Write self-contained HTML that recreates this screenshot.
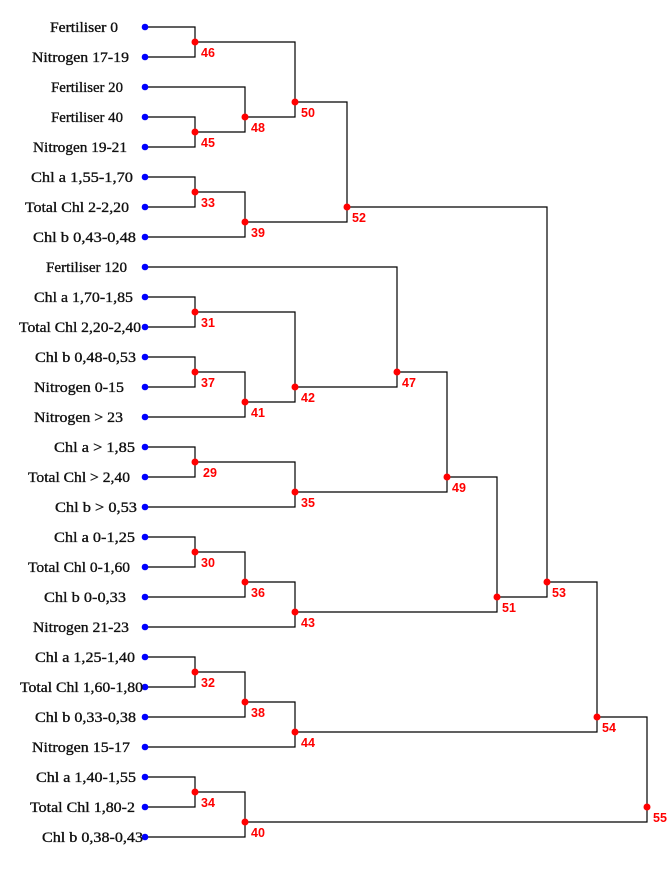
<!DOCTYPE html>
<html><head><meta charset="utf-8"><style>
html,body{margin:0;padding:0;background:#fff;}
svg{display:block;}
.l{font-family:"Liberation Serif",serif;font-size:15px;fill:#111;stroke:#111;stroke-width:0.35;}
.n{font-family:"Liberation Sans",sans-serif;font-size:12.5px;font-weight:bold;fill:#f00;}
</style></head><body>
<svg width="672" height="876" xmlns="http://www.w3.org/2000/svg">
<g stroke="#000" stroke-width="1.2" fill="none">
<polyline points="145,27 195,27 195,57 145,57"/>
<polyline points="145,117 195,117 195,147 145,147"/>
<polyline points="145,87 245,87 245,132 195,132"/>
<polyline points="195,42 295,42 295,117 245,117"/>
<polyline points="145,177 195,177 195,207 145,207"/>
<polyline points="195,192 245,192 245,237 145,237"/>
<polyline points="295,102 347,102 347,222 245,222"/>
<polyline points="145,297 195,297 195,327 145,327"/>
<polyline points="145,357 195,357 195,387 145,387"/>
<polyline points="195,372 245,372 245,417 145,417"/>
<polyline points="195,312 295,312 295,402 245,402"/>
<polyline points="145,267 397,267 397,387 295,387"/>
<polyline points="145,447 195,447 195,477 145,477"/>
<polyline points="195,462 295,462 295,507 145,507"/>
<polyline points="397,372 447,372 447,492 295,492"/>
<polyline points="145,537 195,537 195,567 145,567"/>
<polyline points="195,552 245,552 245,597 145,597"/>
<polyline points="245,582 295,582 295,627 145,627"/>
<polyline points="447,477 497,477 497,612 295,612"/>
<polyline points="347,207 547,207 547,597 497,597"/>
<polyline points="145,657 195,657 195,687 145,687"/>
<polyline points="195,672 245,672 245,717 145,717"/>
<polyline points="245,702 295,702 295,747 145,747"/>
<polyline points="547,582 597,582 597,732 295,732"/>
<polyline points="145,777 195,777 195,807 145,807"/>
<polyline points="195,792 245,792 245,837 145,837"/>
<polyline points="597,717 647,717 647,822 245,822"/>
</g>
<g fill="#00f">
<circle cx="145" cy="27" r="3.3"/><circle cx="145" cy="57" r="3.3"/><circle cx="145" cy="87" r="3.3"/><circle cx="145" cy="117" r="3.3"/><circle cx="145" cy="147" r="3.3"/><circle cx="145" cy="177" r="3.3"/><circle cx="145" cy="207" r="3.3"/><circle cx="145" cy="237" r="3.3"/><circle cx="145" cy="267" r="3.3"/><circle cx="145" cy="297" r="3.3"/><circle cx="145" cy="327" r="3.3"/><circle cx="145" cy="357" r="3.3"/><circle cx="145" cy="387" r="3.3"/><circle cx="145" cy="417" r="3.3"/><circle cx="145" cy="447" r="3.3"/><circle cx="145" cy="477" r="3.3"/><circle cx="145" cy="507" r="3.3"/><circle cx="145" cy="537" r="3.3"/><circle cx="145" cy="567" r="3.3"/><circle cx="145" cy="597" r="3.3"/><circle cx="145" cy="627" r="3.3"/><circle cx="145" cy="657" r="3.3"/><circle cx="145" cy="687" r="3.3"/><circle cx="145" cy="717" r="3.3"/><circle cx="145" cy="747" r="3.3"/><circle cx="145" cy="777" r="3.3"/><circle cx="145" cy="807" r="3.3"/><circle cx="145" cy="837" r="3.3"/>
</g>
<g fill="#f00">
<circle cx="195" cy="42" r="3.5"/><circle cx="195" cy="132" r="3.5"/><circle cx="245" cy="117" r="3.5"/><circle cx="295" cy="102" r="3.5"/><circle cx="195" cy="192" r="3.5"/><circle cx="245" cy="222" r="3.5"/><circle cx="347" cy="207" r="3.5"/><circle cx="195" cy="312" r="3.5"/><circle cx="195" cy="372" r="3.5"/><circle cx="245" cy="402" r="3.5"/><circle cx="295" cy="387" r="3.5"/><circle cx="397" cy="372" r="3.5"/><circle cx="195" cy="462" r="3.5"/><circle cx="295" cy="492" r="3.5"/><circle cx="447" cy="477" r="3.5"/><circle cx="195" cy="552" r="3.5"/><circle cx="245" cy="582" r="3.5"/><circle cx="295" cy="612" r="3.5"/><circle cx="497" cy="597" r="3.5"/><circle cx="547" cy="582" r="3.5"/><circle cx="195" cy="672" r="3.5"/><circle cx="245" cy="702" r="3.5"/><circle cx="295" cy="732" r="3.5"/><circle cx="597" cy="717" r="3.5"/><circle cx="195" cy="792" r="3.5"/><circle cx="245" cy="822" r="3.5"/><circle cx="647" cy="807" r="3.5"/>
</g>
<g class="n">
<text x="201" y="57">46</text><text x="201" y="147">45</text><text x="251" y="132">48</text><text x="301" y="117">50</text><text x="201" y="207">33</text><text x="251" y="237">39</text><text x="352" y="222">52</text><text x="201" y="327">31</text><text x="201" y="387">37</text><text x="251" y="417">41</text><text x="301" y="402">42</text><text x="402" y="387">47</text><text x="203" y="477">29</text><text x="301" y="507">35</text><text x="452" y="492">49</text><text x="201" y="567">30</text><text x="251" y="597">36</text><text x="301" y="627">43</text><text x="502" y="612">51</text><text x="552" y="597">53</text><text x="201" y="687">32</text><text x="251" y="717">38</text><text x="301" y="747">44</text><text x="602" y="732">54</text><text x="201" y="807">34</text><text x="251" y="837">40</text><text x="653" y="822">55</text>
</g>
<g class="l">
<text x="50" y="32" textLength="68" lengthAdjust="spacingAndGlyphs">Fertiliser  0</text>
<text x="32" y="62" textLength="97" lengthAdjust="spacingAndGlyphs">Nitrogen  17-19</text>
<text x="51" y="92" textLength="72" lengthAdjust="spacingAndGlyphs">Fertiliser 20</text>
<text x="51" y="122" textLength="72" lengthAdjust="spacingAndGlyphs">Fertiliser 40</text>
<text x="33" y="152" textLength="94" lengthAdjust="spacingAndGlyphs">Nitrogen 19-21</text>
<text x="31" y="182" textLength="102" lengthAdjust="spacingAndGlyphs">Chl a  1,55-1,70</text>
<text x="25" y="212" textLength="104" lengthAdjust="spacingAndGlyphs">Total Chl  2-2,20</text>
<text x="33" y="242" textLength="103" lengthAdjust="spacingAndGlyphs">Chl b  0,43-0,48</text>
<text x="46" y="272" textLength="81" lengthAdjust="spacingAndGlyphs">Fertiliser 120</text>
<text x="34" y="302" textLength="99" lengthAdjust="spacingAndGlyphs">Chl a  1,70-1,85</text>
<text x="19" y="332" textLength="122" lengthAdjust="spacingAndGlyphs">Total Chl 2,20-2,40</text>
<text x="35" y="362" textLength="101" lengthAdjust="spacingAndGlyphs">Chl b  0,48-0,53</text>
<text x="34" y="392" textLength="90" lengthAdjust="spacingAndGlyphs">Nitrogen  0-15</text>
<text x="34" y="422" textLength="89" lengthAdjust="spacingAndGlyphs">Nitrogen  &gt; 23</text>
<text x="54" y="452" textLength="81" lengthAdjust="spacingAndGlyphs">Chl a  &gt; 1,85</text>
<text x="28" y="482" textLength="102" lengthAdjust="spacingAndGlyphs">Total Chl &gt; 2,40</text>
<text x="55" y="512" textLength="82" lengthAdjust="spacingAndGlyphs">Chl b  &gt; 0,53</text>
<text x="54" y="542" textLength="81" lengthAdjust="spacingAndGlyphs">Chl a  0-1,25</text>
<text x="28" y="572" textLength="102" lengthAdjust="spacingAndGlyphs">Total Chl 0-1,60</text>
<text x="44" y="602" textLength="82" lengthAdjust="spacingAndGlyphs">Chl b  0-0,33</text>
<text x="33" y="632" textLength="96" lengthAdjust="spacingAndGlyphs">Nitrogen 21-23</text>
<text x="35" y="662" textLength="100" lengthAdjust="spacingAndGlyphs">Chl a 1,25-1,40</text>
<text x="20" y="692" textLength="123" lengthAdjust="spacingAndGlyphs">Total Chl 1,60-1,80</text>
<text x="35" y="722" textLength="101" lengthAdjust="spacingAndGlyphs">Chl b  0,33-0,38</text>
<text x="32" y="752" textLength="98" lengthAdjust="spacingAndGlyphs">Nitrogen  15-17</text>
<text x="36" y="782" textLength="100" lengthAdjust="spacingAndGlyphs">Chl a 1,40-1,55</text>
<text x="30" y="812" textLength="105" lengthAdjust="spacingAndGlyphs">Total Chl  1,80-2</text>
<text x="42" y="842" textLength="101" lengthAdjust="spacingAndGlyphs">Chl b  0,38-0,43</text>
</g>
</svg>
</body></html>
